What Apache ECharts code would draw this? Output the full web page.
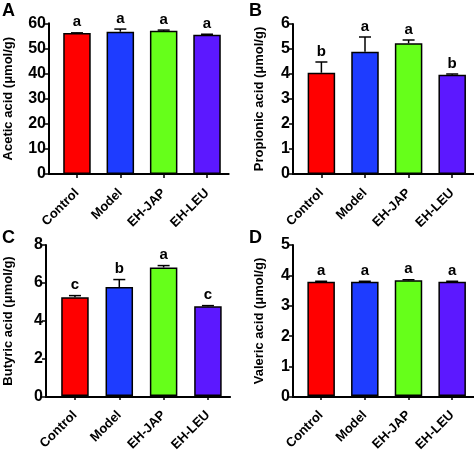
<!DOCTYPE html>
<html>
<head>
<meta charset="utf-8">
<script src="https://cdn.jsdelivr.net/npm/echarts@6/dist/echarts.min.js"></script>
<style>
html,body{margin:0;padding:0;background:#fff;}
#chart{width:474px;height:454px;}
</style>
</head>
<body>
<div id="chart"></div>
<script>
// ---- data ----
var categories = ['Control', 'Model', 'EH-JAP', 'EH-LEU'];
var barColors = ['#ff0000', '#1e3cff', '#66ff1a', '#5c18ff'];

var aceticMean = [56.1, 56.65, 57.0, 55.45];
var aceticSem = [0.1, 1.05, 0.3, 0.2];
var aceticLetters = ['a', 'a', 'a', 'a'];

var propionicMean = [4.05, 4.89, 5.23, 3.97];
var propionicSem = [0.43, 0.59, 0.13, 0.03];
var propionicLetters = ['b', 'a', 'a', 'b'];

var butyricMean = [5.23, 5.77, 6.81, 4.75];
var butyricSem = [0.09, 0.4, 0.1, 0.04];
var butyricLetters = ['c', 'b', 'a', 'c'];

var valericMean = [3.78, 3.78, 3.83, 3.78];
var valericSem = [0.02, 0.02, 0.02, 0.02];
var valericLetters = ['a', 'a', 'a', 'a'];

var panelTitles = ['A', 'B', 'C', 'D'];
var yTitles = ['Acetic acid (\u03bcmol/g)', 'Propionic acid (\u03bcmol/g)', 'Butyric acid (\u03bcmol/g)', 'Valeric acid (\u03bcmol/g)'];
var yMax = [60, 6, 8, 5];
var yInterval = [10, 1, 2, 1];

// ---- layout ----
var FONT = '"Liberation Sans", Arial, sans-serif';
var panels = [
  {mean: aceticMean, sem: aceticSem, letters: aceticLetters, axisX: 49, left: 55.3, width: 173.4, top: 23.3, height: 150.7, tx: 2, ty: 2, gap: 34},
  {mean: propionicMean, sem: propionicSem, letters: propionicLetters, axisX: 293, left: 299.6, width: 179.2, top: 24, height: 150, tx: 249, ty: 2, gap: 27},
  {mean: butyricMean, sem: butyricSem, letters: butyricLetters, axisX: 46, left: 52.8, width: 177.3, top: 245, height: 152, tx: 2, ty: 229, gap: 31},
  {mean: valericMean, sem: valericSem, letters: valericLetters, axisX: 293, left: 299.3, width: 177.3, top: 245, height: 152, tx: 249, ty: 229, gap: 27.5}
];

var grid = [], xAxis = [], yAxis = [], series = [], title = [];
panels.forEach(function (p, k) {
  var gMain = 2 * k, gHelp = 2 * k + 1;
  grid.push({left: p.left, top: p.top, width: p.width, height: p.height, containLabel: false});
  grid.push({left: p.axisX, top: p.top, width: p.left + p.width - p.axisX, height: p.height, containLabel: false});
  title.push({text: panelTitles[k], left: p.tx, top: p.ty, padding: 0, z: 60,
    textStyle: {fontFamily: FONT, fontWeight: 'bold', fontSize: 18, color: '#000'}});

  xAxis.push({
    type: 'category', gridIndex: gMain, data: categories,
    axisLine: {show: false},
    axisTick: {show: true, alignWithLabel: true, length: 4, lineStyle: {color: '#000', width: 1.5}},
    axisLabel: {rotate: 45, margin: 17, color: '#000', fontFamily: FONT, fontWeight: 'bold', fontSize: 13},
    splitLine: {show: false}
  });
  xAxis.push({
    type: 'value', gridIndex: gHelp, min: 0, max: 1,
    axisLine: {show: true, lineStyle: {color: '#000', width: 2}},
    axisTick: {show: false}, axisLabel: {show: false}, splitLine: {show: false}
  });
  yAxis.push({type: 'value', gridIndex: gMain, min: 0, max: yMax[k], interval: yInterval[k], show: false, splitLine: {show: false}});
  yAxis.push({
    type: 'value', gridIndex: gHelp, min: 0, max: yMax[k], interval: yInterval[k],
    name: yTitles[k], nameLocation: 'middle', nameGap: p.gap,
    nameTextStyle: {fontFamily: FONT, fontWeight: 'bold', fontSize: 13, color: '#000'},
    axisLine: {show: true, lineStyle: {color: '#000', width: 2}},
    axisTick: {show: true, length: 4, lineStyle: {color: '#000', width: 1.5}},
    axisLabel: {margin: 3, color: '#000', fontFamily: FONT, fontWeight: 'bold', fontSize: 16},
    splitLine: {show: false}
  });

  series.push({
    type: 'bar', xAxisIndex: gMain, yAxisIndex: gMain, barWidth: 27.5,
    data: p.mean.map(function (v, i) {
      return {value: v, itemStyle: {color: barColors[i], borderColor: '#000', borderWidth: 1.5}};
    }),
    animation: false, silent: true
  });
  (function (p) {
    series.push({
      type: 'custom', xAxisIndex: gMain, yAxisIndex: gMain, animation: false, silent: true, z: 5,
      data: p.mean.map(function (v, i) { return [i, v, p.sem[i]]; }),
      renderItem: function (params, api) {
        var i = api.value(0), v = api.value(1), e = api.value(2);
        var base = api.coord([i, v]);
        var top = api.coord([i, v + e]);
        return {
          type: 'group', children: [
            {type: 'line', shape: {x1: base[0], y1: base[1], x2: top[0], y2: top[1]}, style: {stroke: '#000', lineWidth: 1.5}},
            {type: 'line', shape: {x1: top[0] - 6, y1: top[1], x2: top[0] + 6, y2: top[1]}, style: {stroke: '#000', lineWidth: 1.5}},
            {type: 'text', x: top[0], y: top[1] - 3, style: {text: p.letters[params.dataIndex], align: 'center', verticalAlign: 'bottom',
              fill: '#000', font: 'bold 15px ' + FONT}}
          ]
        };
      }
    });
  })(p);
});

// white band where the upper panels are cropped in the original figure
var graphic = [{type: 'rect', left: 0, top: 227, shape: {width: 474, height: 10}, style: {fill: '#fff'}, z: 50, silent: true}];

var chart = echarts.init(document.getElementById('chart'), null, {renderer: 'canvas'});
chart.setOption({animation: false, backgroundColor: '#fff', title: title, grid: grid, xAxis: xAxis, yAxis: yAxis, series: series, graphic: graphic});
</script>
</body>
</html>
